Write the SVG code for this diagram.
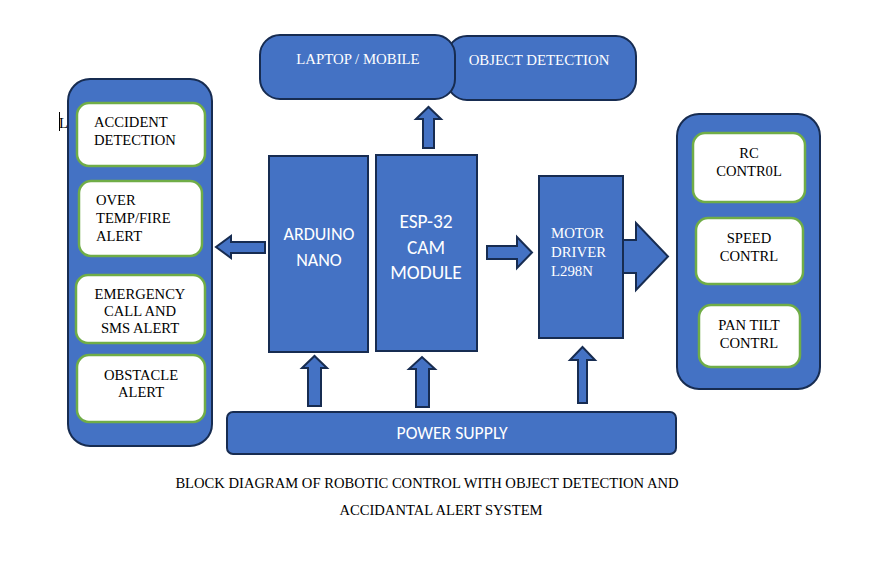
<svg xmlns="http://www.w3.org/2000/svg" width="894" height="563" viewBox="0 0 894 563">
<style>
.blk{fill:#4472C4;stroke:#172C51;stroke-width:2}
.inner{fill:#FFFFFF;stroke:#70AD47;stroke-width:2.5}
.arr{fill:#4472C4;stroke:#172C51;stroke-width:2;stroke-linejoin:miter}
.ts{font-family:"Liberation Serif",serif;font-size:14.6px;fill:#000}
.tw{font-family:"Liberation Serif",serif;font-size:14.8px;fill:#FFFFFF}
.sw{font-family:"Carlito","Open Sans","Liberation Sans",sans-serif;fill:#FFFFFF}
.c{text-anchor:middle}
</style>
<rect width="894" height="563" fill="#FFFFFF"/>

<g id="left-panel">
<rect class="blk" x="68" y="79" width="144" height="367" rx="22"/>
</g>
<g id="accident-detection">
<rect class="inner" x="77" y="103" width="128" height="63" rx="12"/>
<text class="ts" x="94" y="127">ACCIDENT</text>
<text class="ts" x="94" y="145">DETECTION</text>
</g>
<g id="over-temp">
<rect class="inner" x="79" y="181" width="123" height="75" rx="12"/>
<text class="ts" x="96" y="205">OVER</text>
<text class="ts" x="96" y="223">TEMP/FIRE</text>
<text class="ts" x="96" y="241">ALERT</text>
</g>
<g id="emergency-call">
<rect class="inner" x="76" y="275" width="129" height="68" rx="12"/>
<text class="ts c" x="140" y="299">EMERGENCY</text>
<text class="ts c" x="140" y="316">CALL AND</text>
<text class="ts c" x="140" y="333">SMS ALERT</text>
</g>
<g id="obstacle-alert">
<rect class="inner" x="77" y="355" width="128" height="67" rx="12"/>
<text class="ts c" x="141" y="380">OBSTACLE</text>
<text class="ts c" x="141" y="397">ALERT</text>
</g>
<g id="cursor-mark">
<line x1="59.5" y1="112" x2="59.5" y2="131" stroke="#000" stroke-width="1"/>
<text class="ts" x="59" y="128" font-size="14">L</text>
</g>

<g id="object-detection">
<rect class="blk" x="447" y="36" width="189" height="64" rx="20"/>
<text class="tw c" x="539" y="65">OBJECT DETECTION</text>
</g>
<g id="laptop-mobile">
<rect class="blk" x="260" y="35" width="195" height="64" rx="20"/>
<text class="tw c" x="358" y="64">LAPTOP / MOBILE</text>
</g>

<g id="arduino-nano">
<rect class="blk" x="269" y="156" width="99" height="196"/>
<text class="sw c" x="319" y="240" font-size="18">ARDUINO</text>
<text class="sw c" x="319" y="266" font-size="18">NANO</text>
</g>
<g id="esp32-cam">
<rect class="blk" x="376" y="155" width="101" height="196"/>
<text class="sw c" x="426" y="228" font-size="19.4">ESP-32</text>
<text class="sw c" x="426" y="254" font-size="19.4">CAM</text>
<text class="sw c" x="426" y="279" font-size="19.4">MODULE</text>
</g>
<g id="motor-driver">
<rect class="blk" x="539" y="176" width="84" height="162"/>
<text class="tw" x="551" y="238">MOTOR</text>
<text class="tw" x="551" y="257">DRIVER</text>
<text class="tw" x="551" y="276">L298N</text>
</g>

<g id="right-panel">
<rect class="blk" x="677" y="114" width="143" height="275" rx="22"/>
</g>
<g id="rc-control">
<rect class="inner" x="693" y="133" width="112" height="69" rx="12"/>
<text class="ts c" x="749" y="158">RC</text>
<text class="ts c" x="749" y="176">CONTR0L</text>
</g>
<g id="speed-control">
<rect class="inner" x="696" y="218" width="107" height="66" rx="12"/>
<text class="ts c" x="749" y="243">SPEED</text>
<text class="ts c" x="749" y="261">CONTRL</text>
</g>
<g id="pan-tilt-control">
<rect class="inner" x="699" y="305" width="101" height="62" rx="12"/>
<text class="ts c" x="749" y="330">PAN TILT</text>
<text class="ts c" x="749" y="348">CONTRL</text>
</g>

<g id="power-supply">
<rect class="blk" x="227" y="412" width="449" height="42" rx="6"/>
<text class="sw c" x="452" y="439" font-size="17.7">POWER SUPPLY</text>
</g>

<g id="connectors">
<polygon class="arr" points="423,148 423,119 416,119 428.5,107 441,119 434,119 434,148"/>
<polygon class="arr" points="265,242 231,242 231,236 216,247 231,258 231,253 265,253"/>
<polygon class="arr" points="487,246 517,246 517,237 532,252.5 517,268 517,259 487,259"/>
<polygon class="arr" points="623,240 636,240 636,223 668,256.5 636,290 636,273 623,273"/>
<polygon class="arr" points="308,406 308,368 302,368 314.5,356 327,368 321,368 321,406"/>
<polygon class="arr" points="416,407 416,369 409,369 422,357 435,369 429,369 429,407"/>
<polygon class="arr" points="578,403 578,360 570,360 582.5,347 595,360 587,360 587,403"/>
</g>

<g id="caption">
<text class="ts c" x="427" y="488">BLOCK DIAGRAM OF ROBOTIC CONTROL WITH OBJECT DETECTION AND</text>
<text class="ts c" x="441" y="515">ACCIDANTAL ALERT SYSTEM</text>
</g>
</svg>
